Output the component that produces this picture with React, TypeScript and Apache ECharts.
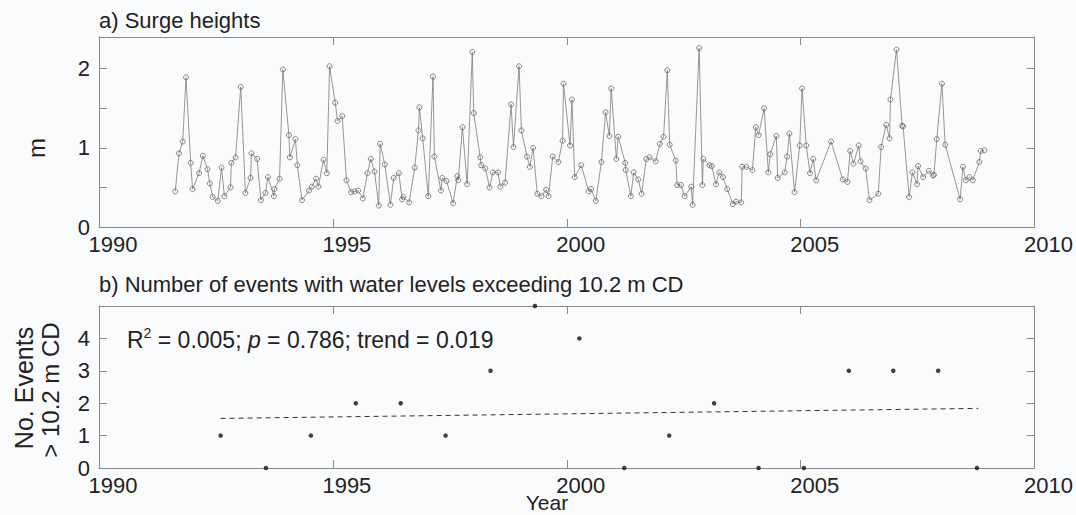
import React, { useEffect, useRef } from 'react';
import * as echarts from 'echarts';

// ---- Data ----
const surgeYears = [
  1991.63, 1991.71, 1991.79, 1991.86, 1991.96, 1992.0, 1992.14, 1992.22, 1992.32, 1992.37,
  1992.43, 1992.54, 1992.62, 1992.68, 1992.81, 1992.83, 1992.92, 1993.03, 1993.13, 1993.24,
  1993.26, 1993.38, 1993.46, 1993.56, 1993.61, 1993.74, 1993.75, 1993.86, 1993.93, 1994.06,
  1994.08, 1994.2, 1994.24, 1994.34, 1994.49, 1994.55, 1994.64, 1994.69, 1994.8, 1994.87,
  1994.93, 1995.05, 1995.1, 1995.2, 1995.29, 1995.39, 1995.46, 1995.54, 1995.64, 1995.74,
  1995.81, 1995.89, 1995.98, 1996.01, 1996.11, 1996.23, 1996.3, 1996.41, 1996.48, 1996.51,
  1996.63, 1996.75, 1996.83, 1996.85, 1996.92, 1997.04, 1997.14, 1997.17, 1997.31, 1997.34,
  1997.43, 1997.57, 1997.66, 1997.68, 1997.77, 1997.87, 1997.98, 1998.01, 1998.15, 1998.17,
  1998.26, 1998.35, 1998.42, 1998.53, 1998.58, 1998.68, 1998.81, 1998.86, 1998.98, 1999.03,
  1999.15, 1999.21, 1999.28, 1999.37, 1999.46, 1999.56, 1999.61, 1999.7, 1999.82, 1999.91,
  1999.93, 2000.07, 2000.11, 2000.17, 2000.31, 2000.47, 2000.52, 2000.62, 2000.74, 2000.83,
  2000.91, 2000.95, 2001.06, 2001.1, 2001.25, 2001.26, 2001.37, 2001.43, 2001.53, 2001.6,
  2001.7, 2001.77, 2001.9, 2001.99, 2002.07, 2002.15, 2002.2, 2002.33, 2002.36, 2002.44,
  2002.52, 2002.66, 2002.69, 2002.83, 2002.9, 2002.92, 2003.05, 2003.1, 2003.19, 2003.26,
  2003.34, 2003.43, 2003.55, 2003.62, 2003.73, 2003.75, 2003.84, 2003.97, 2004.04, 2004.1,
  2004.22, 2004.31, 2004.35, 2004.48, 2004.51, 2004.66, 2004.71, 2004.76, 2004.87, 2004.98,
  2005.03, 2005.12, 2005.2, 2005.27, 2005.33, 2005.65, 2005.9, 2006.0, 2006.06, 2006.13,
  2006.24, 2006.28, 2006.39, 2006.47, 2006.66, 2006.72, 2006.83, 2006.9, 2006.92, 2007.05,
  2007.17, 2007.19, 2007.32, 2007.39, 2007.49, 2007.51, 2007.62, 2007.74, 2007.83, 2007.85,
  2007.91, 2008.02, 2008.09, 2008.41, 2008.47, 2008.53, 2008.61, 2008.68, 2008.82, 2008.85,
  2008.93,
];
const surgeHeights = [
  0.45, 0.93, 1.08, 1.89, 0.81, 0.48, 0.68, 0.9, 0.73, 0.55,
  0.38, 0.33, 0.75, 0.39, 0.5, 0.81, 0.88, 1.77, 0.43, 0.62,
  0.93, 0.86, 0.34, 0.43, 0.63, 0.39, 0.48, 0.61, 1.99, 1.16,
  0.88, 1.11, 0.78, 0.34, 0.46, 0.51, 0.61, 0.51, 0.85, 0.68,
  2.03, 1.57, 1.34, 1.4, 0.59, 0.44, 0.45, 0.46, 0.36, 0.68,
  0.86, 0.7, 0.27, 1.05, 0.79, 0.28, 0.62, 0.68, 0.35, 0.38,
  0.31, 0.75, 1.22, 1.51, 1.12, 0.39, 1.9, 0.89, 0.46, 0.62,
  0.58, 0.3, 0.64, 0.59, 1.26, 0.54, 2.21, 1.44, 0.88, 0.78,
  0.74, 0.5, 0.69, 0.69, 0.51, 0.56, 1.55, 1.01, 2.03, 1.22,
  0.89, 0.76, 1.0, 0.42, 0.39, 0.47, 0.39, 0.89, 0.82, 1.09,
  1.81, 1.03, 1.61, 0.63, 0.78, 0.45, 0.48, 0.33, 0.82, 1.45,
  1.15, 1.75, 0.86, 1.14, 0.81, 0.72, 0.39, 0.69, 0.6, 0.42,
  0.86, 0.88, 0.83, 1.05, 1.14, 1.98, 1.04, 0.84, 0.53, 0.53,
  0.39, 0.51, 0.28, 2.26, 0.53, 0.86, 0.78, 0.77, 0.54, 0.69,
  0.63, 0.48, 0.29, 0.32, 0.31, 0.76, 0.76, 0.72, 1.26, 1.16,
  1.5, 0.69, 0.92, 1.15, 0.62, 0.69, 0.89, 1.18, 0.44, 1.03,
  1.75, 1.03, 0.68, 0.86, 0.59, 1.08, 0.6, 0.57, 0.96, 0.8,
  1.03, 0.83, 0.74, 0.34, 0.42, 1.01, 1.29, 1.12, 1.61, 2.24,
  1.28, 1.27, 0.38, 0.69, 0.54, 0.77, 0.63, 0.71, 0.65, 0.66,
  1.11, 1.81, 1.04, 0.35, 0.76, 0.59, 0.63, 0.59, 0.82, 0.96,
  0.97,
];

const eventYears = [
  1992.6, 1993.57, 1994.53, 1995.49, 1996.45, 1997.41, 1998.37, 1999.32, 2000.27,
  2001.23, 2002.19, 2003.15, 2004.1, 2005.07, 2006.03, 2006.98, 2007.94, 2008.77,
];
const eventCounts = [1, 0, 1, 2, 2, 1, 3, 5, 4, 0, 1, 2, 0, 0, 3, 3, 3, 0];

const trendYears = [1992.6, 2008.8];
const trendCounts = [1.53, 1.84];

const yearMin = 1990;
const yearMax = 2010;
const yearStep = 5;

const FONT = '"Liberation Sans", Arial, Helvetica, sans-serif';
const AXIS_COLOR = '#8a8a8a';
const TEXT = '#222222';
const BG = '#fafbfd';

function xAxisDef(gridIndex: number, position: 'top' | 'bottom', showLabel: boolean) {
  return {
    type: 'value',
    gridIndex,
    position,
    min: yearMin,
    max: yearMax,
    interval: yearStep,
    axisLine: { show: true, onZero: false, lineStyle: { color: AXIS_COLOR, width: 1 } },
    axisTick: { show: true, inside: true, length: 8, lineStyle: { color: AXIS_COLOR, width: 1 } },
    axisLabel: {
      show: showLabel,
      fontSize: 22,
      color: TEXT,
      fontFamily: FONT,
      margin: 6,
      padding: [0, 0, 0, 28],
      formatter: (v: number) => String(Math.round(v)),
    },
    splitLine: { show: false },
  };
}

function yAxisDef(
  gridIndex: number,
  position: 'left' | 'right',
  showLabel: boolean,
  min: number,
  max: number,
  interval: number,
  fmt: (v: number) => string
) {
  return {
    type: 'value',
    gridIndex,
    position,
    min,
    max,
    interval,
    axisLine: { show: true, onZero: false, lineStyle: { color: AXIS_COLOR, width: 1 } },
    axisTick: { show: true, inside: true, length: 8, lineStyle: { color: AXIS_COLOR, width: 1 } },
    axisLabel: {
      show: showLabel,
      fontSize: 22,
      color: TEXT,
      fontFamily: FONT,
      margin: 9,
      formatter: fmt,
      showMaxLabel: false,
    },
    splitLine: { show: false },
  };
}

export default function App() {
  const ref = useRef<HTMLDivElement>(null);
  useEffect(() => {
    if (!ref.current) return;
    const chart = echarts.init(ref.current, null, { renderer: 'svg' });
    const topFmt = (v: number) => (Math.abs(v - Math.round(v)) < 1e-9 ? String(Math.round(v)) : '');
    const botFmt = (v: number) => (v >= 5 ? '' : String(v));
    chart.setOption({
      animation: false,
      backgroundColor: BG,
      grid: [
        { left: 99, right: 41, top: 37, height: 190 },
        { left: 99, right: 41, top: 306, height: 162 },
      ],
      xAxis: [
        xAxisDef(0, 'bottom', true),
        xAxisDef(0, 'top', false),
        xAxisDef(1, 'bottom', true),
        xAxisDef(1, 'top', false),
      ],
      yAxis: [
        yAxisDef(0, 'left', true, 0, 2.4, 0.5, topFmt),
        yAxisDef(0, 'right', false, 0, 2.4, 0.5, topFmt),
        yAxisDef(1, 'left', true, 0, 5, 1, botFmt),
        yAxisDef(1, 'right', false, 0, 5, 1, botFmt),
      ],
      series: [
        {
          type: 'line',
          xAxisIndex: 0,
          yAxisIndex: 0,
          data: surgeYears.map((x, i) => [x, surgeHeights[i]]),
          symbol: 'circle',
          symbolSize: 5,
          showSymbol: true,
          showAllSymbol: true,
          lineStyle: { color: '#7c7c7c', width: 0.8 },
          itemStyle: { color: 'rgba(0,0,0,0)', borderColor: '#666666', borderWidth: 0.8 },
          silent: true,
        },
        {
          type: 'line',
          xAxisIndex: 2,
          yAxisIndex: 2,
          data: trendYears.map((x, i) => [x, trendCounts[i]]),
          symbol: 'none',
          lineStyle: { color: '#333333', width: 1, type: [5, 4] },
          silent: true,
        },
        {
          type: 'scatter',
          xAxisIndex: 2,
          yAxisIndex: 2,
          data: eventYears.map((x, i) => [x, eventCounts[i]]),
          symbol: 'circle',
          symbolSize: 4.5,
          itemStyle: { color: '#111111' },
          clip: false,
          silent: true,
        },
      ],
      graphic: [
        {
          type: 'text',
          left: 99,
          top: 9,
          style: { text: 'a) Surge heights', fontSize: 22, fontFamily: FONT, fill: TEXT },
        },
        {
          type: 'text',
          left: 99,
          top: 273,
          style: {
            text: 'b) Number of events with water levels exceeding 10.2 m CD',
            fontSize: 22,
            fontFamily: FONT,
            fill: TEXT,
          },
        },
        {
          type: 'text',
          x: 36,
          y: 148,
          rotation: Math.PI / 2,
          style: {
            text: 'm',
            fontSize: 24,
            fontFamily: FONT,
            fill: TEXT,
            align: 'center',
            verticalAlign: 'middle',
            textAlign: 'center',
            textVerticalAlign: 'middle',
          },
        },
        {
          type: 'text',
          x: 24,
          y: 388,
          rotation: Math.PI / 2,
          style: {
            text: 'No. Events',
            fontSize: 25,
            fontFamily: FONT,
            fill: TEXT,
            align: 'center',
            verticalAlign: 'middle',
            textAlign: 'center',
            textVerticalAlign: 'middle',
          },
        },
        {
          type: 'text',
          x: 50,
          y: 390,
          rotation: Math.PI / 2,
          style: {
            text: '> 10.2 m CD',
            fontSize: 24,
            fontFamily: FONT,
            fill: TEXT,
            align: 'center',
            verticalAlign: 'middle',
            textAlign: 'center',
            textVerticalAlign: 'middle',
          },
        },
        {
          type: 'text',
          x: 547,
          y: 502,
          style: {
            text: 'Year',
            fontSize: 21,
            fontFamily: FONT,
            fill: TEXT,
            align: 'center',
            verticalAlign: 'middle',
            textAlign: 'center',
            textVerticalAlign: 'middle',
          },
        },
        {
          type: 'text',
          x: 127,
          y: 340,
          style: {
            text: '{a|R}{s|2}{a| = 0.005; }{i|p}{a| = 0.786; trend = 0.019}',
            fill: TEXT,
            verticalAlign: 'middle',
            textVerticalAlign: 'middle',
            rich: {
              a: { fontSize: 23, fontFamily: FONT, fill: TEXT, lineHeight: 28 },
              s: { fontSize: 14, fontFamily: FONT, fill: TEXT, lineHeight: 28, verticalAlign: 'top' },
              i: { fontSize: 23, fontFamily: FONT, fill: TEXT, fontStyle: 'italic', lineHeight: 28 },
            },
          },
        },
      ],
    });
    return () => chart.dispose();
  }, []);
  return (
    <div
      ref={ref}
      style={{ position: 'fixed', left: 0, top: 0, width: 1076, height: 515, background: BG }}
    />
  );
}
